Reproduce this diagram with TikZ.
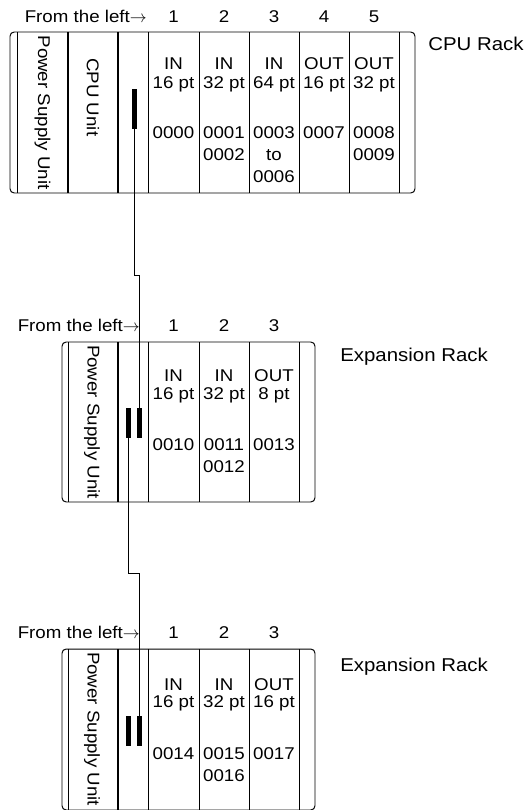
\documentclass[tikz,border=0pt]{standalone}
\usepackage{fontspec}
\setmainfont[FakeStretch=1.1]{Liberation Sans}
\tikzset{
	thinline/.style={line width=0.7pt},
	thickline/.style={line width=1.1pt},
	rackbox/.style={line width=0.7pt, rounded corners=3pt},
	cable/.style={line width=0.7pt},
	conbar/.style={fill=black, draw=none, inner sep=0pt, minimum width=0.125cm},
	racklabel/.style={anchor=base west, font=\fontsize{13.2pt}{16pt}\selectfont},
	txt/.style={anchor=base}
}
\begin{document}
\begin{tikzpicture}[x=0.025cm, y=-0.025cm]
		\tikzstyle{every node}=[font=\fontsize{12.1pt}{16pt}\selectfont, inner sep=0pt]
		\useasboundingbox (0,0) rectangle (529,810);
		
		% CPU rack
		\draw[rackbox] (10,32) rectangle (415,193);
		\draw[thinline] (17,32) -- (17,193);
		\draw[thickline] (68,32) -- (68,193);
		\draw[thickline] (118,32) -- (118,193);
		\draw[thinline] (148,32) -- (148,193);
		\draw[thinline] (199,32) -- (199,193);
		\draw[thinline] (249,32) -- (249,193);
		\draw[thinline] (299,32) -- (299,193);
		\draw[thinline] (349,32) -- (349,193);
		\draw[thinline] (399,32) -- (399,193);
		
		\node[txt, anchor=base east] (hdrA) at (147,22) {From the left$\rightarrow$};
		\node[txt] (numA1) at (173.5,22) {1};
		\node[txt] (numA2) at (224,22) {2};
		\node[txt] (numA3) at (274,22) {3};
		\node[txt] (numA4) at (324,22) {4};
		\node[txt] (numA5) at (374,22) {5};
		\node[racklabel] (rackA) at (428,50) {CPU Rack};
		
		\node[rotate=-90] (psuA) at (42.5,112.5) {Power Supply Unit};
		\node[rotate=-90, anchor=west] (cpuA) at (93,58) {CPU Unit};
		\node[conbar, minimum height=1cm] (barA) at (134,109) {};
		
		\node[txt] (inA1) at (173.5,69) {IN};
		\node[txt] (ptA1) at (173.5,88) {16 pt};
		\node[txt] (adrA1) at (173.5,138) {0000};
		\node[txt] (inA2) at (224,69) {IN};
		\node[txt] (ptA2) at (224,88) {32 pt};
		\node[txt] (adrA2) at (224,138) {0001};
		\node[txt] (adrA2b) at (224,160) {0002};
		\node[txt] (inA3) at (274,69) {IN};
		\node[txt] (ptA3) at (274,88) {64 pt};
		\node[txt] (adrA3) at (274,138) {0003};
		\node[txt] (adrA3b) at (274,160) {to};
		\node[txt] (adrA3c) at (274,182) {0006};
		\node[txt] (inA4) at (324,69) {OUT};
		\node[txt] (ptA4) at (324,88) {16 pt};
		\node[txt] (adrA4) at (324,138) {0007};
		\node[txt] (inA5) at (374,69) {OUT};
		\node[txt] (ptA5) at (374,88) {32 pt};
		\node[txt] (adrA5) at (374,138) {0008};
		\node[txt] (adrA5b) at (374,160) {0009};
		
		% first expansion rack
		\draw[rackbox] (62,342) rectangle (315,502);
		\draw[thinline] (68,342) -- (68,502);
		\draw[thickline] (118,342) -- (118,502);
		\draw[thinline] (148,342) -- (148,502);
		\draw[thinline] (199,342) -- (199,502);
		\draw[thinline] (249,342) -- (249,502);
		\draw[thinline] (299,342) -- (299,502);
		
		\node[txt, anchor=base east] (hdrB) at (140,331) {From the left$\rightarrow$};
		\node[txt] (numB1) at (173.5,331) {1};
		\node[txt] (numB2) at (224,331) {2};
		\node[txt] (numB3) at (274,331) {3};
		\node[racklabel] (rackB) at (340,361) {Expansion Rack};
		
		\node[rotate=-90] (psuB) at (92,422) {Power Supply Unit};
		\node[conbar, minimum height=0.75cm] (barBl) at (128.3,423) {};
		\node[conbar, minimum height=0.75cm] (barBr) at (139.5,423) {};
		
		\node[txt] (inB1) at (173.5,381) {IN};
		\node[txt] (ptB1) at (173.5,399) {16 pt};
		\node[txt] (adrB1) at (173.5,450) {0010};
		\node[txt] (inB2) at (224,381) {IN};
		\node[txt] (ptB2) at (224,399) {32 pt};
		\node[txt] (adrB2) at (224,450) {0011};
		\node[txt] (adrB2b) at (224,472) {0012};
		\node[txt] (inB3) at (274,381) {OUT};
		\node[txt] (ptB3) at (274,399) {8 pt};
		\node[txt] (adrB3) at (274,450) {0013};
		
		% second expansion rack
		\draw[rackbox] (62,649) rectangle (315,810);
		\draw[thinline] (68,649) -- (68,810);
		\draw[thickline] (118,649) -- (118,810);
		\draw[thinline] (148,649) -- (148,810);
		\draw[thinline] (199,649) -- (199,810);
		\draw[thinline] (249,649) -- (249,810);
		\draw[thinline] (299,649) -- (299,810);
		
		\node[txt, anchor=base east] (hdrC) at (140,638) {From the left$\rightarrow$};
		\node[txt] (numC1) at (173.5,638) {1};
		\node[txt] (numC2) at (224,638) {2};
		\node[txt] (numC3) at (274,638) {3};
		\node[racklabel] (rackC) at (340,671) {Expansion Rack};
		
		\node[rotate=-90] (psuC) at (92,729) {Power Supply Unit};
		\node[conbar, minimum height=0.75cm] (barCl) at (128.3,731) {};
		\node[conbar, minimum height=0.75cm] (barCr) at (139.5,731) {};
		
		\node[txt] (inC1) at (173.5,690) {IN};
		\node[txt] (ptC1) at (173.5,707) {16 pt};
		\node[txt] (adrC1) at (173.5,759) {0014};
		\node[txt] (inC2) at (224,690) {IN};
		\node[txt] (ptC2) at (224,707) {32 pt};
		\node[txt] (adrC2) at (224,759) {0015};
		\node[txt] (adrC2b) at (224,781) {0016};
		\node[txt] (inC3) at (274,690) {OUT};
		\node[txt] (ptC3) at (274,707) {16 pt};
		\node[txt] (adrC3) at (274,759) {0017};
		
		% connecting cables
		\draw[cable] (barA.south) -- ++(0,146) -| (barBr.north);
		\draw[cable] (barBl.south) -- ++(0,135) -| (barCr.north);
		
	\end{tikzpicture}
\end{document}
